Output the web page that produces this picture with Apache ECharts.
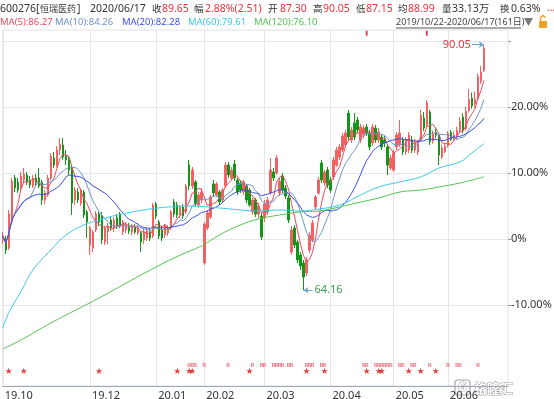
<!DOCTYPE html>
<html>
<head>
<meta charset="utf-8">
<script src="https://cdn.jsdelivr.net/npm/echarts@6/dist/echarts.min.js"></script>
<style>
  html, body { margin: 0; padding: 0; background: #fff; }
  #chart { width: 554px; height: 399px; }
</style>
</head>
<body>
<div id="chart"></div>
<script>
// quote header
const stockCode = '600276[';
const stockName = '恒瑞医药';
const quoteDate = '2020/06/17';
const avgPrice = '88.99';
const volumeText = '33.13万';
const turnoverText = '0.63%';
const rangeText = '2019/10/22-2020/06/17(161日)';

// percent axis is relative to this price
const basePrice = 69.56;

// trading days, month by month
const tradingMonths = ['2019/10', '2019/11', '2019/12', '2020/01', '2020/02', '2020/03', '2020/04', '2020/05', '2020/06'];
const tradingDays = [
  [22, 23, 24, 25, 28, 29, 30, 31],
  [1, 4, 5, 6, 7, 8, 11, 12, 13, 14, 15, 18, 19, 20, 21, 22, 25, 26, 27, 28, 29],
  [2, 3, 4, 5, 6, 9, 10, 11, 12, 13, 16, 17, 18, 19, 20, 23, 24, 25, 26, 27, 30, 31],
  [2, 3, 6, 7, 8, 9, 10, 13, 14, 15, 16, 17, 20, 21, 22, 23],
  [3, 4, 5, 6, 7, 10, 11, 12, 13, 14, 17, 18, 19, 20, 21, 24, 25, 26, 27, 28],
  [2, 3, 4, 5, 6, 9, 10, 11, 12, 13, 16, 17, 18, 19, 20, 23, 24, 25, 26, 27, 30, 31],
  [1, 2, 3, 7, 8, 9, 10, 13, 14, 15, 16, 17, 20, 21, 22, 23, 24, 27, 28, 29, 30],
  [6, 7, 8, 11, 12, 13, 14, 15, 18, 19, 20, 21, 22, 25, 26, 27, 28, 29],
  [1, 2, 3, 4, 5, 8, 9, 10, 11, 12, 15, 16, 17]
];

// [open, close, low, high]
const candles = [
  [69.45, 69.88, 69.03, 70.30], [69.45, 68.40, 67.98, 69.88], [68.61, 72.19, 68.40, 72.62], [71.35, 75.67, 71.10, 75.99],
  [75.99, 74.93, 74.51, 76.31], [75.57, 74.72, 74.41, 75.99], [74.93, 76.20, 74.72, 76.62], [75.78, 76.41, 75.46, 77.04],
  [76.31, 75.57, 75.25, 76.62], [75.78, 75.25, 74.93, 76.20], [75.15, 75.99, 74.93, 76.31], [75.99, 75.46, 75.15, 76.41],
  [75.99, 75.15, 74.93, 77.04], [75.57, 73.67, 73.14, 75.78], [73.67, 74.41, 73.25, 74.72], [74.20, 75.99, 73.99, 76.31],
  [75.99, 78.31, 75.78, 78.62], [78.10, 77.36, 77.04, 78.73], [77.36, 78.94, 77.15, 79.36], [78.94, 79.57, 78.41, 80.20],
  [79.47, 78.20, 77.89, 80.20], [78.41, 77.89, 77.36, 78.94], [77.89, 76.83, 76.31, 78.20], [77.04, 73.35, 72.09, 77.36],
  [73.67, 74.72, 73.14, 75.04], [74.51, 73.67, 73.35, 74.93], [73.35, 74.72, 73.04, 74.93], [74.51, 72.09, 71.77, 74.72],
  [72.41, 71.35, 69.66, 72.62], [68.93, 70.72, 67.87, 70.93], [68.61, 70.30, 68.19, 70.51], [70.51, 72.19, 70.30, 72.51],
  [72.19, 71.35, 70.93, 72.41], [71.98, 69.45, 69.03, 72.41], [69.24, 70.72, 68.93, 70.93], [70.30, 70.93, 69.03, 71.25],
  [71.56, 70.72, 70.40, 71.88], [70.72, 71.56, 70.30, 71.88], [71.77, 70.93, 70.61, 72.19], [72.19, 70.93, 70.72, 72.41],
  [70.30, 71.35, 69.98, 71.56], [70.51, 71.04, 70.19, 71.35], [70.93, 70.40, 70.09, 71.25], [70.30, 70.93, 69.98, 71.14],
  [70.82, 70.30, 70.09, 71.14], [70.19, 70.72, 69.98, 71.04], [70.19, 69.24, 68.19, 70.40], [69.45, 70.30, 69.03, 70.61],
  [69.66, 70.40, 69.35, 70.72], [70.30, 69.66, 69.35, 70.61], [69.88, 73.14, 69.66, 73.35], [73.25, 71.98, 71.67, 73.46],
  [71.35, 69.88, 69.56, 71.56], [70.51, 69.66, 69.35, 70.93], [69.98, 70.93, 69.66, 71.14], [70.19, 70.72, 69.88, 71.04],
  [70.72, 72.41, 70.51, 72.62], [73.46, 72.19, 71.88, 73.77], [73.14, 72.09, 71.77, 73.46], [72.09, 72.93, 71.77, 73.14],
  [72.93, 71.98, 71.67, 73.25], [72.41, 75.15, 72.19, 75.36], [77.36, 75.15, 74.72, 77.89], [75.15, 76.83, 74.83, 77.15],
  [75.57, 73.25, 72.93, 75.78], [73.14, 74.20, 72.83, 74.51], [73.67, 74.51, 73.35, 74.93], [67.03, 71.14, 66.82, 71.35],
  [70.72, 72.30, 70.51, 72.62], [71.88, 73.99, 71.67, 74.20], [75.36, 74.41, 73.99, 75.78], [74.20, 75.36, 73.99, 75.57],
  [74.51, 73.46, 73.14, 74.72], [73.67, 74.72, 73.35, 74.93], [75.15, 77.36, 74.93, 77.67], [77.36, 76.31, 75.99, 77.67],
  [75.99, 76.83, 75.78, 77.15], [77.46, 75.99, 75.67, 77.89], [75.78, 74.51, 74.20, 75.99], [75.46, 74.72, 74.41, 75.67],
  [74.51, 75.57, 74.20, 75.78], [75.15, 73.67, 73.35, 75.36], [74.72, 73.14, 72.93, 74.93], [72.41, 73.67, 72.09, 73.88],
  [73.67, 72.19, 71.88, 73.88], [72.19, 73.04, 71.77, 73.35], [71.98, 69.77, 69.45, 72.30], [71.77, 73.25, 71.35, 73.67],
  [72.41, 73.67, 72.09, 73.99], [74.41, 76.83, 74.20, 78.10], [76.62, 75.99, 75.67, 77.04], [76.52, 78.10, 76.31, 78.41],
  [74.41, 75.67, 74.09, 75.99], [76.20, 74.72, 74.41, 76.52], [74.93, 74.09, 73.77, 75.25], [73.88, 71.56, 71.25, 74.20],
  [68.19, 70.51, 67.87, 70.93], [70.72, 68.93, 68.61, 71.04], [69.24, 67.35, 67.03, 69.45], [67.87, 66.71, 66.29, 68.19],
  [67.03, 65.55, 64.16, 67.35], [65.98, 67.35, 65.66, 67.66], [68.40, 69.98, 68.08, 70.30], [69.45, 71.25, 69.24, 71.56],
  [72.93, 73.99, 72.62, 74.20], [74.41, 75.78, 74.20, 76.10], [77.57, 75.78, 75.46, 77.89], [75.46, 76.62, 75.15, 76.83],
  [76.83, 75.25, 74.93, 77.15], [75.78, 74.72, 74.41, 76.10], [76.10, 77.89, 75.78, 78.20], [77.36, 78.94, 77.15, 79.26],
  [78.20, 79.26, 77.89, 79.57], [78.94, 80.42, 78.73, 80.73], [79.47, 80.73, 79.15, 81.05], [82.84, 80.31, 79.99, 83.16],
  [79.99, 81.05, 79.68, 81.37], [81.79, 80.31, 79.99, 82.84], [82.10, 81.05, 80.73, 82.42], [79.99, 81.37, 79.68, 81.68],
  [80.52, 81.26, 80.20, 81.58], [81.37, 80.73, 80.42, 81.68], [80.73, 79.26, 78.94, 81.05], [79.68, 81.37, 79.36, 81.68],
  [81.26, 79.99, 79.68, 81.58], [79.99, 80.84, 79.68, 81.26], [80.31, 79.26, 78.94, 80.63], [79.99, 79.68, 79.26, 80.42],
  [79.26, 77.36, 76.31, 79.57], [77.04, 78.10, 76.83, 78.41], [76.83, 78.62, 76.62, 78.94], [79.26, 80.52, 78.94, 80.84],
  [79.47, 80.73, 79.26, 82.10], [79.99, 78.73, 78.41, 80.31], [78.73, 79.99, 78.41, 80.31], [78.94, 80.52, 78.62, 80.84],
  [79.99, 78.94, 78.62, 80.42], [78.94, 79.78, 78.62, 80.10], [78.73, 79.68, 78.41, 79.99], [79.99, 82.63, 79.78, 83.16],
  [82.31, 81.26, 80.94, 82.94], [81.58, 83.90, 81.37, 84.21], [82.94, 79.80, 79.47, 83.16], [79.90, 80.70, 79.60, 81.00],
  [80.80, 80.50, 80.20, 81.20], [80.40, 78.40, 77.36, 80.60], [78.20, 79.15, 78.00, 79.50], [78.80, 79.30, 78.60, 79.70],
  [79.40, 80.70, 79.20, 80.95], [80.80, 80.05, 79.90, 81.05], [80.10, 80.50, 79.90, 80.90], [80.40, 81.00, 80.10, 81.40],
  [81.00, 82.00, 80.80, 82.40], [82.40, 81.00, 80.70, 82.80], [81.20, 83.00, 81.00, 83.50], [83.10, 84.25, 82.90, 85.40],
  [84.40, 83.60, 83.30, 85.00], [83.80, 84.30, 83.40, 85.10], [84.40, 86.66, 84.20, 87.00], [86.20, 87.14, 85.90, 87.80],
  [87.30, 89.65, 87.15, 90.05]
];

// long averages: [day index, price]
const ma60Points = [
  [0, 60.2], [2, 61.8], [6, 64.0], [10, 66.29], [16, 68.40], [21, 69.98], [27, 71.04], [32, 71.56], [38, 72.09],
  [43, 72.41], [49, 72.72], [55, 72.93], [62, 73.04], [72, 72.83], [79, 72.62], [85, 72.51], [92, 72.62], [99, 72.51],
  [105, 72.72], [112, 73.14], [119, 74.20], [125, 75.04], [132, 75.57], [139, 76.10], [145, 77.04], [152, 77.68],
  [156, 78.62], [160, 79.61]
];
const ma120Points = [
  [0, 57.97], [6, 58.91], [16, 60.71], [32, 63.34], [49, 66.29], [59, 67.87], [66, 68.82], [72, 69.98], [79, 71.04],
  [85, 71.67], [92, 72.09], [99, 72.41], [105, 72.51], [112, 72.93], [119, 73.46], [125, 73.88], [132, 74.51],
  [139, 74.72], [145, 75.04], [152, 75.46], [160, 76.10]
];

// signal marks (day indexes)
const starDays = [2, 7, 32, 58, 62, 63, 82, 101, 107, 121, 125, 126, 135, 139, 144];
const rDays = [62, 63, 64, 67, 75, 83, 86, 87, 90, 91, 92, 93, 95, 96, 101, 102, 103, 106, 107, 120, 121, 124,
  125, 126, 127, 128, 129, 132, 133, 136, 137, 142, 148, 151, 152, 158];
const flagDays = [121, 141];

const emptySlots = 8;

const dates = [];
tradingMonths.forEach((m, k) => {
  tradingDays[k].forEach((d) => dates.push(m + '/' + String(d).padStart(2, '0')));
});
const categories = dates.concat(new Array(emptySlots).fill(''));
const closes = candles.map((c) => c[1]);

function movingAverage(n) {
  return closes.map((v, i) => {
    let s = Math.max(0, i - n + 1);
    let sum = 0;
    for (let k = s; k <= i; k++) sum += closes[k];
    return +(sum / (i - s + 1)).toFixed(3);
  });
}
const ma5 = movingAverage(5);
const ma10 = movingAverage(10);
const ma20 = movingAverage(20);

// month marks, skip those too close to the previous one
const monthMarks = new Set();
let lastMark = -100;
dates.forEach((d, i) => {
  if (i === 0 || d.slice(0, 7) !== dates[i - 1].slice(0, 7)) {
    if (i - lastMark >= 12) { monthMarks.add(i); lastMark = i; }
  }
});

let hiIdx = 0, loIdx = 0;
candles.forEach((c, i) => {
  if (c[3] > candles[hiIdx][3]) hiIdx = i;
  if (c[2] < candles[loIdx][2]) loIdx = i;
});
const hiPrice = candles[hiIdx][3];
const loPrice = candles[loIdx][2];
const last = candles[candles.length - 1];
const prevClose = closes[closes.length - 2];
const change = last[1] - prevClose;

const RED = '#e8343c';
const TXT = '#333';
const FONT = '"Noto Sans", "Noto Sans CJK SC", sans-serif';
const maColors = ['#ea4a5c', '#6f95c9', '#3b50e4', '#3cc9e6', '#55c455'];

function text(x, y, str, fill, size, extra) {
  return Object.assign({
    type: 'text', x: x, y: y, silent: true,
    style: { text: str, fill: fill, fontSize: size, fontFamily: FONT, verticalAlign: 'middle' }
  }, extra || {});
}

const maLast = [ma5[ma5.length - 1], ma10[ma10.length - 1], ma20[ma20.length - 1],
  ma60Points[ma60Points.length - 1][1], ma120Points[ma120Points.length - 1][1]];

const NUM = 10.5;
const KEY = 9.5;
const header = [
  text(0, 9, stockCode, TXT, NUM),
  text(40, 9, stockName, TXT, 9),
  text(77, 9, ']', TXT, NUM),
  text(90, 9, quoteDate, TXT, NUM),
  text(152, 9, '收', TXT, KEY), text(162, 9, last[1].toFixed(2), RED, NUM),
  text(194, 9, '幅', TXT, KEY), text(205, 9, (change / prevClose * 100).toFixed(2) + '%(' + change.toFixed(2) + ')', RED, NUM),
  text(268, 9, '开', TXT, KEY), text(280, 9, last[0].toFixed(2), RED, NUM),
  text(313, 9, '高', TXT, KEY), text(323, 9, last[3].toFixed(2), RED, NUM),
  text(356, 9, '低', TXT, KEY), text(366, 9, last[2].toFixed(2), RED, NUM),
  text(398, 9, '均', TXT, KEY), text(408, 9, avgPrice, RED, NUM),
  text(442, 9, '量', TXT, KEY), text(452, 9, volumeText, TXT, NUM),
  text(500, 9, '换', TXT, KEY), text(511, 9, turnoverText, TXT, NUM),
  text(547, 8, '...', RED, 10),
  text(0, 22, 'MA(5):' + maLast[0].toFixed(2), maColors[0], 9.5),
  text(55, 22, 'MA(10):' + maLast[1].toFixed(2), maColors[1], 9.5),
  text(122, 22, 'MA(20):' + maLast[2].toFixed(2), maColors[2], 9.5),
  text(188, 22, 'MA(60):' + maLast[3].toFixed(2), maColors[3], 9.5),
  text(254, 22, 'MA(120):' + maLast[4].toFixed(2), maColors[4], 9.5),
  text(396, 22, rangeText, '#444', 9),
  { type: 'line', silent: true, shape: { x1: 396, y1: 28, x2: 521, y2: 28 }, style: { stroke: '#555', lineWidth: 1 } },
  { type: 'polygon', silent: true, shape: { points: [[524, 18], [533, 18], [528.5, 26]] }, style: { fill: '#7a7a7a' } },
  { type: 'polyline', silent: true, shape: { points: [[540.5, 21], [540.5, 17.5], [543, 15.5], [545.5, 17.5]] },
    style: { stroke: '#f0a020', lineWidth: 1.4, fill: null } },
  { type: 'rect', silent: true, shape: { x: 539, y: 21, width: 8, height: 7, r: 1 }, style: { fill: '#f0a020' } },
  // watermark
  { type: 'rect', silent: true, shape: { x: 455, y: 380, width: 15, height: 15, r: 3 },
    style: { fill: 'rgba(255,255,255,0.6)', stroke: '#a8a8a8', lineWidth: 1.2 } },
  text(458, 388, 'G', '#fff', 12, { style: { text: 'G', fill: '#fff', stroke: '#9a9a9a', lineWidth: 1, fontSize: 12,
    fontWeight: 'bold', fontFamily: FONT, verticalAlign: 'middle' } }),
  text(474, 388, '格隆汇', '#fff', 13, { style: { text: '格隆汇', fill: '#fff', stroke: '#9a9a9a', lineWidth: 1,
    fontSize: 13, fontWeight: 'bold', fontFamily: '"Noto Sans CJK SC"', verticalAlign: 'middle' } })
];

// only -10% .. 20% carry a label
function pctLabel(v) {
  let p = Math.round((v / basePrice - 1) * 1000) / 10;
  if (p <= -20 || p >= 30) return '';
  return p === 0 ? '0%' : p.toFixed(2) + '%';
}

function signalSeries(days, yValue, label, color, size) {
  return {
    type: 'scatter', xAxisIndex: 0, yAxisIndex: 0, silent: true, z: 5,
    symbol: 'circle', symbolSize: 1, itemStyle: { color: 'rgba(0,0,0,0)' },
    label: { show: true, position: 'inside', formatter: label, color: color, fontSize: size,
      fontFamily: FONT, fontWeight: 'bold' },
    data: days.map((d) => [d, yValue])
  };
}

const chart = echarts.init(document.getElementById('chart'));
chart.setOption({
  animation: false,
  backgroundColor: '#fff',
  graphic: header,
  grid: [
    { left: 2.8, right: 46, top: 30, bottom: 13, show: true, borderColor: '#e2e2e2', borderWidth: 1, outerBoundsMode: 'none' },
    { left: 2.8, right: 46, top: 41, bottom: 28, outerBoundsMode: 'none' }
  ],
  xAxis: [
    {
      type: 'category', gridIndex: 0, data: categories, boundaryGap: false,
      axisLine: { show: true, lineStyle: { color: '#97a9bb', width: 1 } },
      axisTick: { show: false },
      splitLine: { show: true, interval: (i) => monthMarks.has(i), lineStyle: { color: '#e6e6e6', width: 1 } },
      axisLabel: {
        interval: (i) => monthMarks.has(i), align: 'left', margin: 4, padding: [0, 0, 0, 2],
        color: TXT, fontSize: 11, fontFamily: FONT,
        formatter: (v) => v.slice(2, 4) + '.' + v.slice(5, 7)
      }
    },
    { type: 'category', gridIndex: 1, data: categories, boundaryGap: false, show: false }
  ],
  yAxis: [
    { type: 'value', gridIndex: 0, min: 0, max: 100, show: false },
    {
      type: 'value', gridIndex: 1, position: 'right', scale: true,
      min: basePrice * 0.8, max: basePrice * 1.3, interval: basePrice * 0.1,
      axisLine: { show: false },
      axisTick: { show: true, length: 3, lineStyle: { color: '#999' } },
      splitLine: { show: true, showMinLine: false, showMaxLine: false, lineStyle: { color: '#e6e6e6' } },
      axisLabel: { margin: 3, color: TXT, fontSize: 11, fontFamily: FONT, formatter: pctLabel,
        showMinLabel: false, showMaxLabel: false }
    }
  ],
  series: [
    {
      type: 'candlestick', xAxisIndex: 1, yAxisIndex: 1, data: candles, barWidth: 2, clip: false, z: 3,
      itemStyle: { color: '#f26262', color0: '#12961a', borderColor: '#f26262', borderColor0: '#12961a', borderWidth: 1 },
      markLine: {
        silent: true, animation: false, symbolSize: 5,
        lineStyle: { color: '#6aa8cc', type: 'solid', width: 1 },
        data: [
          [
            { coord: [hiIdx - 4, hiPrice], symbol: 'none',
              label: { show: true, position: 'start', formatter: hiPrice.toFixed(2), color: RED, fontSize: 11, fontFamily: FONT, distance: 1 } },
            { coord: [hiIdx, hiPrice], symbol: 'arrow' }
          ],
          [
            { coord: [loIdx, loPrice], symbol: 'arrow',
              label: { show: true, position: 'end', formatter: loPrice.toFixed(2), color: '#3c9a52', fontSize: 11, fontFamily: FONT, distance: 2 } },
            { coord: [loIdx + 3, loPrice], symbol: 'none' }
          ]
        ]
      }
    },
    { name: 'MA5', type: 'line', xAxisIndex: 1, yAxisIndex: 1, data: ma5, showSymbol: false, z: 4,
      lineStyle: { color: maColors[0], width: 1 } },
    { name: 'MA10', type: 'line', xAxisIndex: 1, yAxisIndex: 1, data: ma10, showSymbol: false, z: 4,
      lineStyle: { color: maColors[1], width: 1 } },
    { name: 'MA20', type: 'line', xAxisIndex: 1, yAxisIndex: 1, data: ma20, showSymbol: false, z: 4,
      lineStyle: { color: maColors[2], width: 1 } },
    { name: 'MA60', type: 'line', xAxisIndex: 1, yAxisIndex: 1, data: ma60Points, showSymbol: false, smooth: 0.4, z: 4,
      lineStyle: { color: maColors[3], width: 1 } },
    { name: 'MA120', type: 'line', xAxisIndex: 1, yAxisIndex: 1, data: ma120Points, showSymbol: false, smooth: 0.4, z: 4,
      lineStyle: { color: maColors[4], width: 1 } },
    signalSeries(starDays, 4.2, '★', '#d41010', 7),
    signalSeries(rDays, 5.9, 'R', '#ee5a6c', 6),
    {
      type: 'scatter', xAxisIndex: 0, yAxisIndex: 0, silent: true, symbol: 'rect', symbolSize: [2, 5],
      itemStyle: { color: '#e01030' }, data: flagDays.map((d) => [d, 99.1])
    }
  ]
});
</script>
</body>
</html>
